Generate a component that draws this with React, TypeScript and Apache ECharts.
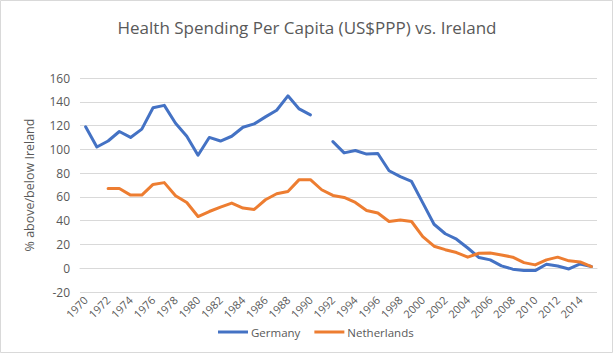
import React, { useEffect, useRef } from "react";
import * as echarts from "echarts";

const years: string[] = [];
for (let y = 1970; y <= 2015; y++) years.push(String(y));

const germany: (number | null)[] = [
  119, 102, 107, 115, 110, 117, 135, 137, 122, 111,
  95, 110, 107, 111, 118.6, 121.4, 127.3, 132.9, 145, 134,
  129, null, 106.5, 97, 99, 96, 96.5, 82, 77, 73,
  55, 37, 29, 24.4, 17, 9, 7, 2, -0.8, -2,
  -2, 3.4, 1.9, -0.6, 3.6, 1.4,
];

const netherlands: (number | null)[] = [
  null, null, 67, 67, 61.5, 61.5, 70.5, 72, 61, 55.3,
  43.5, 47.7, 51.4, 54.8, 50.6, 49.4, 57.6, 62.6, 64.6, 74.5,
  74.5, 66, 61.2, 59.5, 55.3, 48.6, 46.4, 39.3, 40.5, 39.3,
  26.6, 18.5, 15.6, 13.2, 9.3, 12.6, 12.8, 11.2, 9.3, 4.7,
  2.8, 7, 9.3, 6.2, 5.3, 1.4,
];

const seriesNames = ["Germany", "Netherlands"];
const colors = ["#4472C4", "#ED7D31"];
const titleText = "Health Spending Per Capita (US$PPP) vs. Ireland";
const yAxisName = "% above/below Ireland";

const FONT = "'Open Sans', 'Noto Sans', sans-serif";

export default function App() {
  const ref = useRef<HTMLDivElement>(null);
  useEffect(() => {
    if (!ref.current) return;
    const chart = echarts.init(ref.current, undefined, { renderer: "svg" });
    chart.setOption({
      animation: false,
      backgroundColor: "#ffffff",
      title: {
        text: titleText,
        left: "center",
        top: 14,
        textStyle: { fontFamily: FONT, fontSize: 17, fontWeight: "normal", color: "#595959" },
      },
      legend: {
        bottom: 16,
        left: 213,
        itemWidth: 30,
        itemHeight: 3,
        itemGap: 14,
        icon: "rect",
        data: seriesNames,
        textStyle: { fontFamily: FONT, fontSize: 11.5, color: "#595959", padding: [0, 0, 0, -2] },
      },
      grid: { left: 80, right: 17, top: 78, bottom: 67 },
      xAxis: {
        type: "category",
        data: years,
        boundaryGap: true,
        axisLine: { show: true, lineStyle: { color: "#d9d9d9" } },
        axisTick: { show: false },
        axisLabel: {
          interval: 1,
          rotate: 45,
          margin: 6,
          fontFamily: FONT,
          fontSize: 11,
          color: "#595959",
        },
      },
      yAxis: {
        type: "value",
        min: -20,
        max: 160,
        interval: 20,
        name: yAxisName,
        nameLocation: "middle",
        nameGap: 44,
        nameTextStyle: { fontFamily: FONT, fontSize: 12.5, color: "#595959" },
        axisLine: { show: false },
        axisTick: { show: false },
        axisLabel: { fontFamily: FONT, fontSize: 12, color: "#595959", margin: 10 },
        splitLine: { lineStyle: { color: "#d9d9d9", width: 1 } },
      },
      series: [
        {
          name: seriesNames[0],
          type: "line",
          data: germany,
          connectNulls: false,
          showSymbol: false,
          symbol: "none",
          lineStyle: { width: 3, color: colors[0], join: "round", cap: "round" },
          itemStyle: { color: colors[0] },
        },
        {
          name: seriesNames[1],
          type: "line",
          data: netherlands,
          connectNulls: false,
          showSymbol: false,
          symbol: "none",
          lineStyle: { width: 3, color: colors[1], join: "round", cap: "round" },
          itemStyle: { color: colors[1] },
        },
      ],
      graphic: [
        {
          type: "rect",
          shape: { x: 0.5, y: 0.5, width: 612, height: 352 },
          style: { fill: "none", stroke: "#d9d9d9", lineWidth: 1 },
          silent: true,
        },
      ],
    });
    return () => chart.dispose();
  }, []);
  return <div ref={ref} style={{ width: 614, height: 359, position: "absolute", left: 0, top: 0 }} />;
}
